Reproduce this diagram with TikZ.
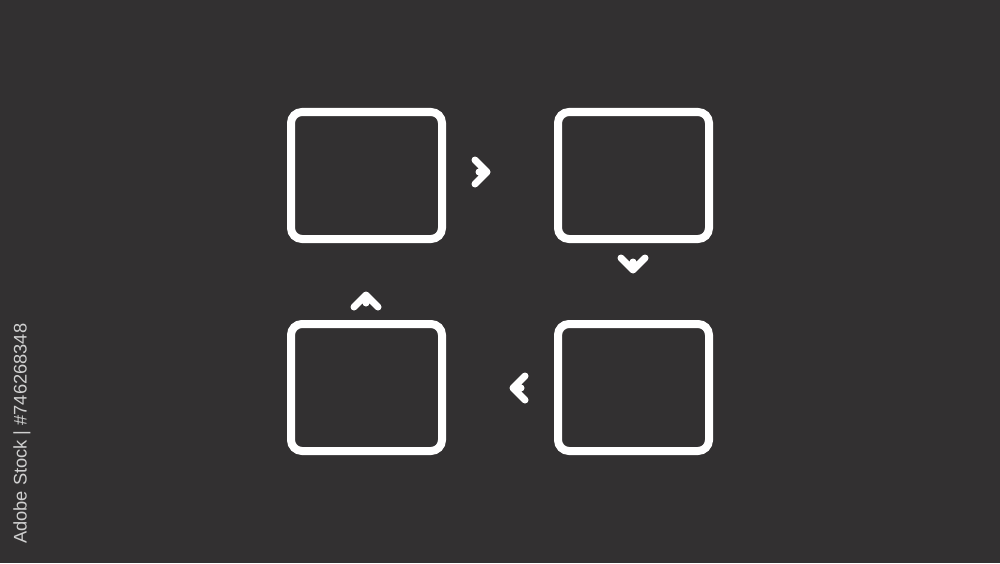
\documentclass[tikz,border=0pt]{standalone}
\usepackage{fontspec}
\newfontfamily\idfont{Liberation Sans}
\definecolor{bgcol}{HTML}{323031}
\definecolor{idcol}{HTML}{D0D0D0}
\tikzset{
    frame/.style={draw=white,line width=0.08cm,rounded corners=0.11cm,
        minimum width=1.51cm,minimum height=1.27cm,inner sep=0pt},
    chev/.style={draw=white,line width=0.07cm,line cap=round,line join=round}
}

\begin{document}
\begin{tikzpicture}
%\draw[help lines] (0,-5.63) grid (10,0);
\fill[bgcol] (0,0) rectangle (10,-5.63);
\useasboundingbox (0,0) rectangle (10,-5.63);
\node[frame] (TL) at (3.665,-1.755) {};
\node[frame] (TR) at (6.335,-1.755) {};
\node[frame] (BL) at (3.665,-3.875) {};
\node[frame] (BR) at (6.335,-3.875) {};
\draw[chev] (4.75,-1.60) -- (4.87,-1.72) -- (4.75,-1.84) (4.87,-1.72) -- (4.79,-1.72);
\draw[chev] (6.21,-2.58) -- (6.33,-2.70) -- (6.45,-2.58) (6.33,-2.70) -- (6.33,-2.62);
\draw[chev] (3.54,-3.07) -- (3.66,-2.95) -- (3.78,-3.07) (3.66,-2.95) -- (3.66,-3.03);
\draw[chev] (5.25,-3.76) -- (5.13,-3.88) -- (5.25,-4.00) (5.13,-3.88) -- (5.21,-3.88);
\node[rotate=90,anchor=east,inner sep=0pt,text=idcol,font=\idfont\fontsize{5.2}{6}\selectfont]
    (ID) at (0.22,-3.23) {Adobe Stock | \#746268348};
\end{tikzpicture}
\end{document}
